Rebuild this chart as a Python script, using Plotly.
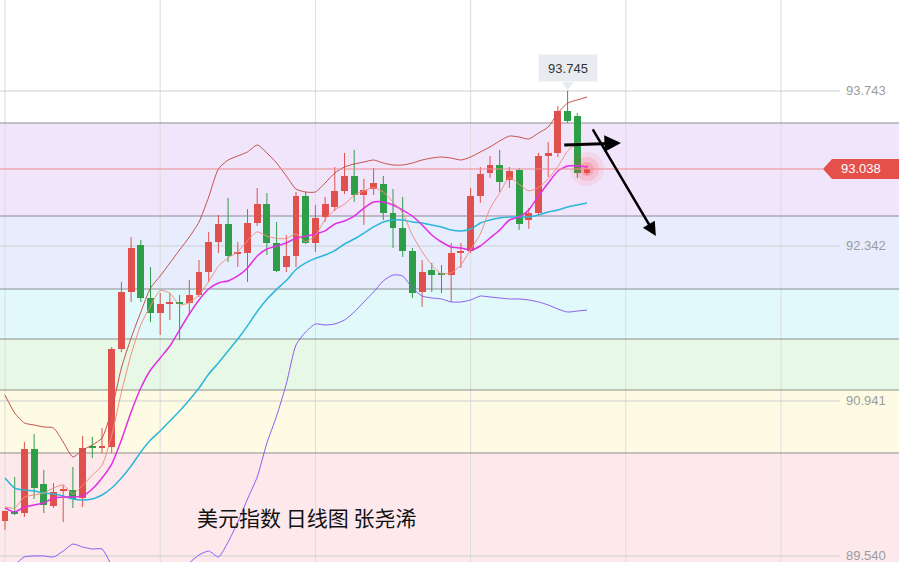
import plotly.graph_objects as go

# ---------------- data ----------------
idx = list(range(61))

opens = [89.856, 89.938, 89.928, 90.507, 90.191, 89.992, 90.136, 90.136, 90.064, 90.534,
         90.516, 90.525, 91.411, 91.926, 92.351, 91.872, 91.736, 91.818, 91.827, 91.827,
         91.899, 92.107, 92.378, 92.541, 92.270, 92.279, 92.550, 92.722, 92.369, 92.152,
         92.252, 92.794, 92.369, 92.604, 92.694, 92.839, 92.975, 92.803, 92.857, 92.902,
         92.640, 92.505, 92.297, 91.926, 92.125, 92.089, 92.080, 92.279, 92.297, 92.794,
         93.002, 93.074, 92.939, 93.029, 92.577, 92.640, 93.155, 93.183, 93.562, 93.517,
         93.002]
highs = [89.950, 90.254, 90.570, 90.643, 90.317, 90.200, 90.182, 90.344, 90.625, 90.616,
         90.697, 91.429, 92.017, 92.423, 92.396, 92.152, 91.917, 91.917, 91.899, 92.035,
         92.215, 92.469, 92.622, 92.776, 92.378, 92.676, 92.866, 92.821, 92.559, 92.441,
         92.830, 92.830, 92.713, 92.785, 93.056, 93.183, 93.210, 92.948, 93.047, 92.975,
         92.857, 92.785, 92.324, 92.215, 92.188, 92.170, 92.369, 92.369, 92.866, 93.056,
         93.155, 93.210, 93.056, 93.047, 92.685, 93.183, 93.282, 93.607, 93.745, 93.544,
         93.074]
lows = [89.775, 89.910, 89.892, 90.055, 89.928, 89.974, 89.847, 89.974, 89.983, 90.426,
        90.471, 90.471, 91.384, 91.836, 91.836, 91.655, 91.537, 91.673, 91.492, 91.718,
        91.881, 92.017, 92.279, 92.197, 92.152, 92.017, 92.523, 92.261, 92.107, 92.107,
        92.152, 92.360, 92.288, 92.559, 92.658, 92.812, 92.740, 92.532, 92.803, 92.577,
        92.324, 92.243, 91.872, 91.791, 91.926, 91.917, 91.836, 92.143, 92.279, 92.731,
        92.957, 92.830, 92.866, 92.487, 92.496, 92.622, 92.966, 93.146, 93.454, 92.957,
        92.984]
closes = [89.947, 89.928, 90.507, 90.154, 90.001, 90.118, 90.145, 90.055, 90.516, 90.516,
          90.525, 91.411, 91.926, 92.324, 91.872, 91.736, 91.818, 91.827, 91.818, 91.899,
          92.107, 92.378, 92.541, 92.252, 92.279, 92.550, 92.722, 92.369, 92.116, 92.252,
          92.794, 92.369, 92.595, 92.722, 92.839, 92.975, 92.803, 92.848, 92.911, 92.640,
          92.505, 92.297, 91.917, 92.107, 92.080, 92.080, 92.279, 92.288, 92.794, 92.993,
          93.074, 92.920, 93.020, 92.541, 92.640, 93.155, 93.183, 93.562, 93.472, 93.002,
          93.038]

ma5 = [89.983, 89.974, 90.073, 90.091, 90.109, 90.155, 90.182, 90.100, 90.180, 90.270,
       90.360, 90.630, 91.020, 91.360, 91.630, 91.800, 91.940, 91.915, 91.810, 91.830,
       91.900, 92.020, 92.160, 92.235, 92.290, 92.390, 92.470, 92.430, 92.410, 92.410,
       92.450, 92.380, 92.440, 92.580, 92.670, 92.720, 92.800, 92.840, 92.870, 92.830,
       92.740, 92.640, 92.440, 92.290, 92.170, 92.090, 92.100, 92.170, 92.310, 92.450,
       92.680, 92.820, 92.960, 92.900, 92.840, 92.870, 92.950, 93.060, 93.200, 93.270,
       93.260]
ma10 = [89.974, 89.938, 89.983, 90.001, 90.019, 90.064, 90.073, 90.073, 90.082, 90.145,
        90.245, 90.371, 90.588, 90.841, 91.058, 91.221, 91.330, 91.438, 91.583, 91.727,
        91.854, 91.953, 92.008, 92.026, 92.071, 92.143, 92.252, 92.315, 92.342, 92.369,
        92.414, 92.432, 92.451, 92.478, 92.541, 92.568, 92.613, 92.685, 92.740, 92.740,
        92.713, 92.667, 92.613, 92.532, 92.441, 92.378, 92.333, 92.324, 92.306, 92.342,
        92.414, 92.487, 92.577, 92.604, 92.667, 92.794, 92.911, 93.020, 93.065, 93.065,
        93.056]
boll_mid = [90.245, 90.154, 90.136, 90.127, 90.109, 90.100, 90.082, 90.055, 90.046, 90.055,
            90.091, 90.154, 90.245, 90.353, 90.480, 90.588, 90.670, 90.760, 90.850, 90.950,
            91.058, 91.185, 91.284, 91.393, 91.501, 91.620, 91.750, 91.860, 91.950, 92.030,
            92.130, 92.190, 92.230, 92.260, 92.300, 92.360, 92.405, 92.459, 92.514, 92.559,
            92.577, 92.577, 92.559, 92.550, 92.532, 92.514, 92.487, 92.478, 92.496, 92.550,
            92.577, 92.595, 92.604, 92.604, 92.604, 92.622, 92.649, 92.667, 92.694, 92.713,
            92.731]
boll_up = [90.995, 90.832, 90.742, 90.724, 90.706, 90.697, 90.570, 90.435, 90.498, 90.543,
           90.606, 90.860, 91.239, 91.510, 91.745, 91.962, 92.071, 92.188, 92.306, 92.423,
           92.559, 92.785, 93.038, 93.119, 93.156, 93.192, 93.255, 93.183, 93.092, 92.975,
           92.857, 92.830, 92.830, 92.911, 93.002, 93.056, 93.083, 93.101, 93.119, 93.092,
           93.074, 93.074, 93.092, 93.119, 93.137, 93.146, 93.137, 93.119, 93.146, 93.192,
           93.237, 93.291, 93.336, 93.327, 93.309, 93.363, 93.417, 93.544, 93.634, 93.662,
           93.689]
boll_low = [89.368, 89.459, 89.531, 89.540, 89.540, 89.531, 89.585, 89.648, 89.621, 89.603,
            89.603, 89.450, 89.251, 89.196, 89.214, 89.214, 89.269, 89.332, 89.395, 89.477,
            89.549, 89.585, 89.531, 89.666, 89.847, 90.055, 90.254, 90.561, 90.805, 91.095,
            91.447, 91.565, 91.637, 91.628, 91.637, 91.673, 91.745, 91.836, 91.926, 92.026,
            92.080, 92.071, 91.962, 91.890, 91.872, 91.863, 91.836, 91.836, 91.854, 91.890,
            91.881, 91.872, 91.863, 91.863, 91.854, 91.836, 91.809, 91.772, 91.745, 91.754,
            91.763]

axis_ticks = [93.743, 92.342, 90.941, 89.540]
zone_levels = [93.454, 92.613, 91.953, 91.501, 91.040, 90.471]
last_price = 93.038
high_mark = 93.745
high_index = 58
date_grid = [0, 16, 32, 48, 64, 80]
title_text = "美元指数 日线图 张尧浠"

# ---------------- styling / layout ----------------
W, H = 899, 562
Y_RANGE = [89.4856, 94.5655]
X_RANGE = [-0.5155, 92.165]
per_px = (Y_RANGE[1] - Y_RANGE[0]) / H

RED = "#e0504d"
GREEN = "#2e9e48"
zone_colors = ["#f1e5fb", "#e7edfd", "#e1f9fa", "#e7f8e7", "#fdfbe4", "#fde9ec"]

fig = go.Figure()

# wicks
for up in (True, False):
    wx, wy = [], []
    for i in idx:
        if (closes[i] >= opens[i]) == up:
            wx += [i, i, None]
            wy += [lows[i], highs[i], None]
    fig.add_trace(go.Scatter(x=wx, y=wy, mode="lines",
                             line=dict(color=RED if up else GREEN, width=1),
                             hoverinfo="skip", showlegend=False))

# bodies
min_body = 1.4 * per_px
bases = [min(o, c) for o, c in zip(opens, closes)]
heights = [max(abs(c - o), min_body) for o, c in zip(opens, closes)]
colors = [RED if c >= o else GREEN for o, c in zip(opens, closes)]
fig.add_trace(go.Bar(x=idx, y=heights, base=bases, width=0.72,
                     marker=dict(color=colors, line=dict(width=0)),
                     hoverinfo="skip", showlegend=False))

# glow at the last price
for s, a in [(34, 0.09), (24, 0.14), (14, 0.22)]:
    fig.add_trace(go.Scatter(x=[idx[-1]], y=[last_price], mode="markers",
                             marker=dict(size=s, color=f"rgba(255,70,70,{a})", line=dict(width=0)),
                             hoverinfo="skip", showlegend=False))

# indicator lines
def add_line(vals, color, width):
    fig.add_trace(go.Scatter(x=idx, y=vals, mode="lines",
                             line=dict(color=color, width=width, shape="spline", smoothing=0.6),
                             hoverinfo="skip", showlegend=False))

add_line(boll_up, "#c4514a", 1)
add_line(boll_low, "#8b5cf0", 1)
add_line(boll_mid, "#2cb6d9", 1.5)
add_line(ma10, "#e22ee2", 1.5)
add_line(ma5, "#f2907e", 1)

# pointer triangle under the high label
fig.add_trace(go.Scatter(x=[high_index], y=[high_mark + 6 * per_px], mode="markers",
                         marker=dict(symbol="triangle-down", size=10, color="#e6eaee"),
                         hoverinfo="skip", showlegend=False))

shapes = []
# zone backgrounds
bounds = zone_levels + [Y_RANGE[0] - 1]
for k, col in enumerate(zone_colors):
    shapes.append(dict(type="rect", xref="paper", yref="y", x0=0, x1=1,
                       y0=bounds[k + 1], y1=bounds[k], fillcolor=col,
                       line=dict(width=0), layer="below"))
# vertical date grid
for g in date_grid:
    shapes.append(dict(type="line", xref="x", yref="paper", x0=g, x1=g, y0=0, y1=1,
                       line=dict(color="#dcdcdc", width=1), layer="below"))
# horizontal axis grid
for t in axis_ticks:
    shapes.append(dict(type="line", xref="paper", yref="y", x0=0, x1=840 / W, y0=t, y1=t,
                       line=dict(color="#cfcfcf", width=1), layer="below"))
# zone boundary lines
for z in zone_levels:
    shapes.append(dict(type="line", xref="paper", yref="y", x0=0, x1=1, y0=z, y1=z,
                       line=dict(color="rgba(100,100,100,0.7)", width=1), layer="below"))
# last price line
shapes.append(dict(type="line", xref="paper", yref="y", x0=0, x1=823 / W,
                   y0=last_price, y1=last_price, line=dict(color="#ee8a8a", width=1)))
# price tag
ht = 10 * per_px
tip, left, right = 823 / W, 832 / W, 1.0
shapes.append(dict(type="path", xref="paper", yref="y",
                   path=f"M {tip},{last_price} L {left},{last_price + ht} L {right},{last_price + ht} "
                        f"L {right},{last_price - ht} L {left},{last_price - ht} Z",
                   fillcolor="#e5504b", line=dict(width=0)))

annotations = []
for t in axis_ticks:
    annotations.append(dict(xref="paper", yref="y", x=888 / W, y=t, xanchor="right",
                            yanchor="middle", text=f"{t:.3f}", showarrow=False,
                            font=dict(family="Liberation Sans, Arial", size=13, color="#9c9c9c")))
annotations.append(dict(xref="paper", yref="y", x=861 / W, y=last_price, xanchor="center",
                        yanchor="middle", text=f"{last_price:.3f}", showarrow=False,
                        font=dict(family="Liberation Sans, Arial", size=13, color="white")))
annotations.append(dict(xref="x", yref="y", x=high_index, y=high_mark, yshift=23,
                        text=f"{high_mark:.3f}", showarrow=False, bgcolor="#e8ecf0",
                        width=50, height=18, borderpad=4,
                        font=dict(family="Liberation Sans, Arial", size=13, color="#333333")))
# hand-drawn arrows
annotations.append(dict(xref="x", yref="y", axref="x", ayref="y",
                        x=63.5, y=93.273, ax=57.5, ay=93.255, text="", showarrow=True,
                        arrowhead=2, arrowsize=1.1, arrowwidth=3, arrowcolor="#000000"))
annotations.append(dict(xref="x", yref="y", axref="x", ayref="y",
                        x=67.1, y=92.432, ax=60.5, ay=93.409, text="", showarrow=True,
                        arrowhead=2, arrowsize=1.1, arrowwidth=2.5, arrowcolor="#000000"))
annotations.append(dict(xref="paper", yref="paper", x=306 / W, y=1 - 517 / H,
                        xanchor="center", yanchor="middle", text=title_text, showarrow=False,
                        font=dict(family="Noto Sans CJK SC", size=21, color="#111111")))

fig.update_layout(
    width=W, height=H, margin=dict(l=0, r=0, t=0, b=0),
    paper_bgcolor="white", plot_bgcolor="white",
    xaxis=dict(range=X_RANGE, visible=False, fixedrange=True),
    yaxis=dict(range=Y_RANGE, visible=False, fixedrange=True),
    shapes=shapes, annotations=annotations, showlegend=False, bargap=0,
)

fig.write_html("out.html", config={"displayModeBar": False},
               post_script="document.body.style.margin='0';document.body.style.padding='0';"
                           "document.body.style.overflow='hidden';")
